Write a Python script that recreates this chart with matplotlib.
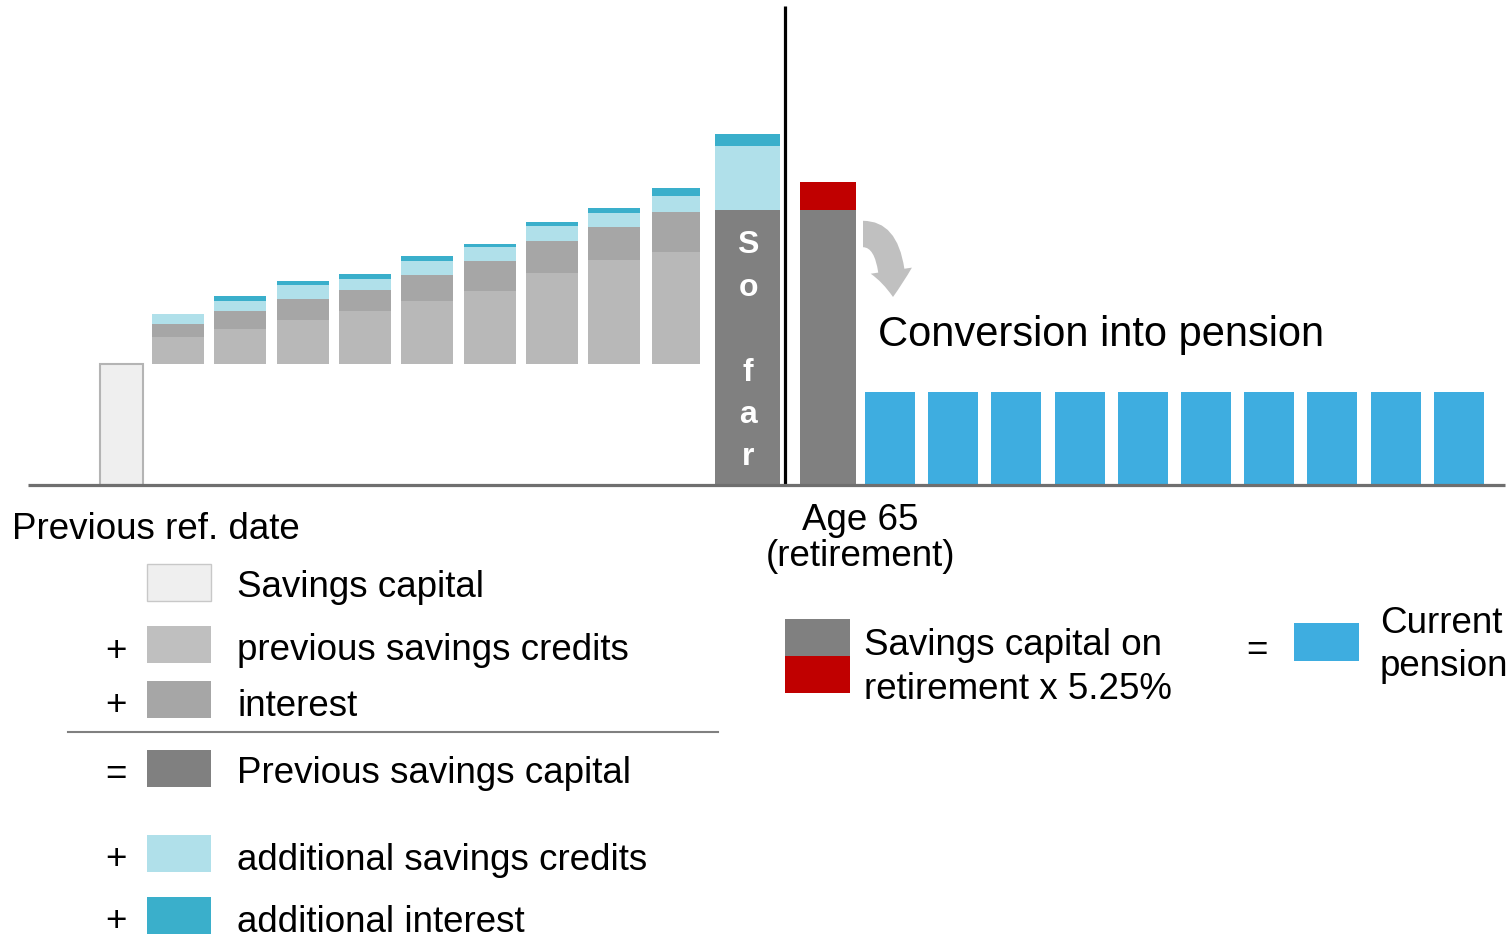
import numpy as np
import matplotlib.pyplot as plt
from matplotlib.patches import Rectangle, FancyArrowPatch

plt.rcParams['font.family'] = ['Liberation Sans', 'DejaVu Sans']

# values in chart units (1 unit = 1 px at 100 dpi), baseline at 0
start_capital = 121
prev_credits = [27, 35, 44, 53, 63, 73, 91, 104, 112]
prev_interest = [13, 18, 21, 21, 26, 30, 32, 33, 40]
add_credits = [10, 10, 14, 11, 14, 14, 15, 14, 16]
add_interest = [0, 5, 4, 5, 5, 3, 4, 5, 8]
so_far = [275, 64, 12]          # previous capital, add. credits, add. interest
retirement = [275, 28]          # capital at 65, conversion share
pension = [93] * 10

C_START = '#efefef'
C_CRED = '#b8b8b8'
C_INT = '#a6a6a6'
C_PREV = '#808080'
C_ADDC = '#b0e0ea'
C_ADDI = '#3aafcb'
C_RED = '#c00000'
C_PENS = '#3eade0'

fig = plt.figure(figsize=(15.1, 9.38), dpi=100)
ax = fig.add_axes([0, 0, 1, 1])
ax.set_xlim(0, 1510)
ax.set_ylim(-453, 485)
ax.axis('off')

FS = 26.5

# starting capital
ax.bar(121.5, start_capital, width=43, color=C_START, edgecolor='#b4b4b4', linewidth=1.5)

# yearly stacks floating on the start capital
x = 178 + 62.3 * np.arange(len(prev_credits))
w = np.array([52] * 8 + [48])
bottom = np.full(len(x), float(start_capital))
for vals, col in [(prev_credits, C_CRED), (prev_interest, C_INT),
                  (add_credits, C_ADDC), (add_interest, C_ADDI)]:
    ax.bar(x, vals, width=w, bottom=bottom, color=col, linewidth=0)
    bottom += np.array(vals)

# "so far" column
b = 0
for v, col in zip(so_far, [C_PREV, C_ADDC, C_ADDI]):
    ax.bar(747.5, v, width=65, bottom=b, color=col, linewidth=0)
    b += v
for ch, yb in zip('Sofar', [232, 189, 104, 62, 20]):
    ax.text(748, yb, ch, color='white', fontsize=23, fontweight='bold',
            ha='center', va='baseline')

# retirement line and capital at 65
ax.plot([785, 785], [0, 479], color='black', lw=2.3, solid_capstyle='butt')
ax.bar(828, retirement[0], width=56, color=C_PREV, linewidth=0)
ax.bar(828, retirement[1], width=56, bottom=retirement[0], color=C_RED, linewidth=0)

# pension payments
px = 890 + 63.2 * np.arange(len(pension))
ax.bar(px, pension, width=50, color=C_PENS, linewidth=0)

# baseline
ax.plot([28, 1505], [0, 0], color='#6f6f6f', lw=2.3, solid_capstyle='butt')

# curved conversion arrow
arr = FancyArrowPatch((863, 251), (893, 188),
                      connectionstyle='angle3,angleA=0,angleB=-90',
                      arrowstyle='simple,head_width=30,head_length=19,tail_width=19',
                      mutation_scale=1, color='#c0c0c0', lw=0,
                      shrinkA=0, shrinkB=0)
ax.add_patch(arr)

ax.text(878, 485 - 346, 'Conversion into pension', fontsize=30, va='baseline')
ax.text(12, 485 - 539, 'Previous ref. date', fontsize=FS, va='baseline')
ax.text(860, 485 - 530, 'Age 65', fontsize=FS, ha='center', va='baseline')
ax.text(860, 485 - 566, '(retirement)', fontsize=FS, ha='center', va='baseline')

# left legend
legend_rows = [
    ('', C_START, 'Savings capital', 564, 597),
    ('+', '#bfbfbf', 'previous savings credits', 626, 660),
    ('+', C_INT, 'interest', 681, 716),
    ('=', C_PREV, 'Previous savings capital', 750, 783),
    ('+', C_ADDC, 'additional savings credits', 835, 870),
    ('+', C_ADDI, 'additional interest', 897, 932),
]
for op, col, label, top, base in legend_rows:
    ec = '#c8c8c8' if col == C_START else 'none'
    ax.add_patch(Rectangle((147, 485 - top - 37), 64, 37, facecolor=col,
                           edgecolor=ec, lw=1))
    ax.text(237, 485 - base, label, fontsize=FS, va='baseline')
    if op:
        ax.text(116, 485 - top - 25, op, fontsize=FS, ha='center', va='center')
ax.plot([68, 718], [485 - 732, 485 - 732], color='#808080', lw=1.5)

# right legend
ax.add_patch(Rectangle((785, 485 - 656), 65, 37, facecolor=C_PREV, lw=0))
ax.add_patch(Rectangle((785, 485 - 693), 65, 37, facecolor=C_RED, lw=0))
ax.text(864, 485 - 655, 'Savings capital on', fontsize=FS, va='baseline')
ax.text(864, 485 - 699, 'retirement x 5.25%', fontsize=FS, va='baseline')
ax.text(1257, 485 - 650, '=', fontsize=FS, ha='center', va='center')
ax.add_patch(Rectangle((1294, 485 - 661), 65, 38, facecolor=C_PENS, lw=0))
ax.text(1380, 485 - 633, 'Current', fontsize=FS, va='baseline')
ax.text(1380, 485 - 676, 'pension', fontsize=FS, va='baseline')

fig.savefig('out.png', dpi=100)
